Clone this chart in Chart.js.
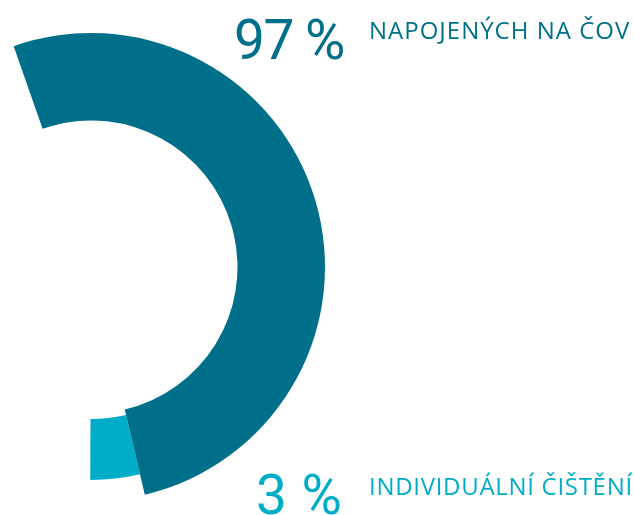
<!DOCTYPE html>
<html>
<head>
<meta charset="utf-8">
<script src="https://cdn.jsdelivr.net/npm/chart.js@4"></script>
<style>
  html, body { margin: 0; padding: 0; width: 634px; height: 515px; overflow: hidden; background: #fff; }
  .wrap { position: absolute; left: -169px; top: 7px; width: 520px; height: 520px; }
  .wrap canvas { position: absolute; left: 0; top: 0; }
  .txt { position: absolute; white-space: nowrap; line-height: 1; }
  .big { font-family: Roboto, sans-serif; font-weight: 400; font-size: 55px; }
  .lbl { font-family: "Open Sans", sans-serif; font-weight: 400; font-size: 24px; }
</style>
</head>
<body>
<div class="wrap">
  <canvas id="cLight" width="520" height="520"></canvas>
  <canvas id="cDark" width="520" height="520"></canvas>
</div>
<div id="texts"></div>
<script>
// Categories, shares (as labelled) and arc sweeps (degrees)
const categories = ['NAPOJENÝCH NA ČOV', 'INDIVIDUÁLNÍ ČIŠTĚNÍ'];
const shareLabels = ['97 %', '3 %'];
const arcSweepDeg = [186, 13.5];
const startAngleDeg = -19.3;
const colors = ['#00708a', '#00adc8'];

const unfilled = 360 - arcSweepDeg[0] - arcSweepDeg[1];
const dataAll = [arcSweepDeg[0], arcSweepDeg[1], unfilled];

function makeChart(id, colorArr, radius, cutout) {
  return new Chart(document.getElementById(id), {
    type: 'doughnut',
    data: {
      labels: [categories[0], categories[1], ''],
      datasets: [{
        data: dataAll,
        backgroundColor: colorArr,
        borderWidth: 0,
        hoverOffset: 0,
        clip: false
      }]
    },
    options: {
      responsive: false,
      animation: false,
      rotation: startAngleDeg,
      circumference: 360,
      radius: radius,
      cutout: cutout,
      events: [],
      layout: { padding: 0 },
      plugins: { legend: { display: false }, tooltip: { enabled: false } }
    }
  });
}

// light (individual) ring is slimmer and sits beneath the dark arc
makeChart('cLight', ['rgba(0,0,0,0)', colors[1], 'rgba(0,0,0,0)'], 213, '71.4%');
makeChart('cDark', [colors[0], 'rgba(0,0,0,0)', 'rgba(0,0,0,0)'], 234, '62.6%');

// texts
const texts = document.getElementById('texts');
function addText(str, cls, color, left, top, ls) {
  const d = document.createElement('div');
  d.className = 'txt ' + cls;
  d.style.color = color;
  d.style.left = left + 'px';
  d.style.top = top + 'px';
  d.style.letterSpacing = ls + 'px';
  d.textContent = str;
  texts.appendChild(d);
}
addText(shareLabels[0], 'big', colors[0], 234, 13, -1.5);
addText(categories[0], 'lbl', colors[0], 369, 18, 1);
addText(shareLabels[1], 'big', colors[1], 256, 468, 0.5);
addText(categories[1], 'lbl', colors[1], 369, 474, 0.7);
</script>
</body>
</html>
